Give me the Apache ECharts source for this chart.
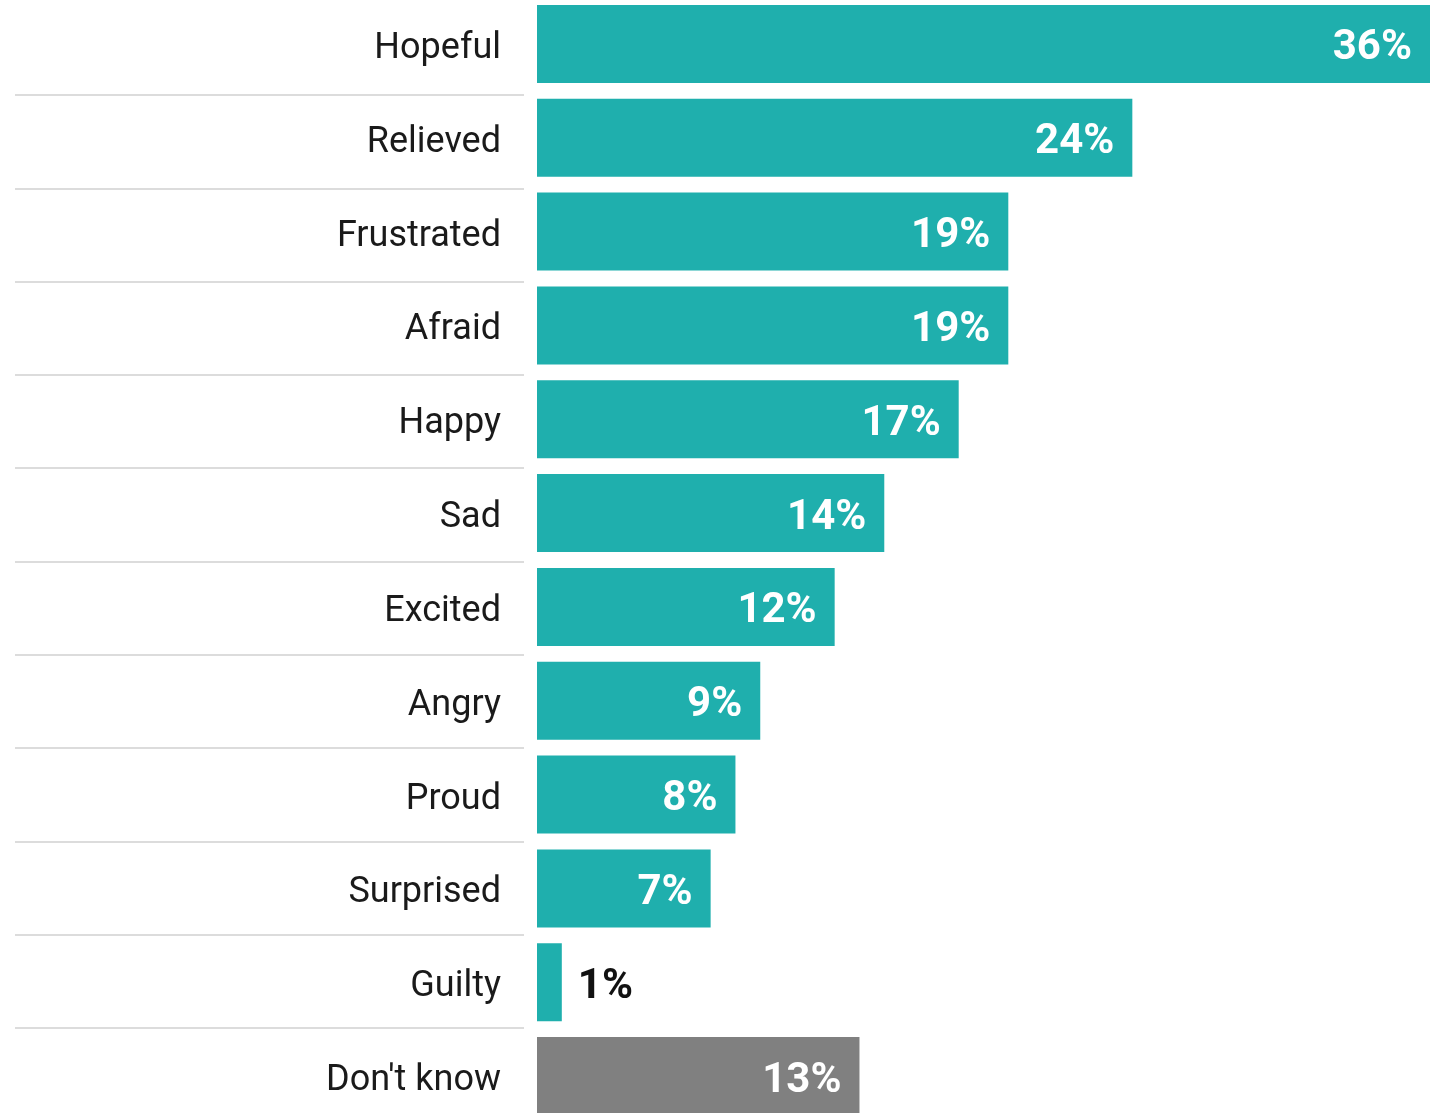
<!DOCTYPE html>
<html><head><meta charset="utf-8">
<script src="https://cdn.jsdelivr.net/npm/echarts@6/dist/echarts.min.js"></script>
<style>html,body{margin:0;padding:0;background:#fff}#c{width:1435px;height:1113px}</style>
</head><body><div id="c"></div>
<script>
const categories = ["Hopeful","Relieved","Frustrated","Afraid","Happy","Sad","Excited","Angry","Proud","Surprised","Guilty","Don't know"];
const values = [36,24,19,19,17,14,12,9,8,7,1,13];
const barColors = ["#1FAFAD","#1FAFAD","#1FAFAD","#1FAFAD","#1FAFAD","#1FAFAD","#1FAFAD","#1FAFAD","#1FAFAD","#1FAFAD","#1FAFAD","#808080"];
const insideThreshold = 3;

const chart = echarts.init(document.getElementById('c'));
chart.setOption({
  animation: false,
  grid: [
    {left: 537, right: 5, top: -3, height: 1126, containLabel: false, outerBoundsMode: 'none'},
    {left: 15, width: 509, top: 1.7, height: 1119.6, containLabel: false, outerBoundsMode: 'none'}
  ],
  xAxis: [
    {gridIndex: 0, type: 'value', min: 0, max: 36, show: false},
    {gridIndex: 1, type: 'value', min: 0, max: 1, show: false}
  ],
  yAxis: [
    {gridIndex: 0, type: 'category', data: categories, inverse: true,
     axisLine: {show: false}, axisTick: {show: false}, splitLine: {show: false},
     axisLabel: {margin: 36, formatter: '{a|{value}}',
       rich: {a: {fontSize: 36, color: '#1a1a1a', fontFamily: 'Roboto', fontWeight: 400, padding: [10, 0, 0, 0]}}}},
    {gridIndex: 1, type: 'category', data: categories, inverse: true,
     axisLine: {show: false}, axisTick: {show: false}, axisLabel: {show: false},
     splitLine: {show: true, interval: function(i){ return i > 0; }, lineStyle: {color: '#dcdcdc', width: 2}}}
  ],
  series: [{
    type: 'bar', xAxisIndex: 0, yAxisIndex: 0, barWidth: 78,
    data: values.map((v, i) => ({
      value: v,
      itemStyle: {color: barColors[i]},
      label: v > insideThreshold
        ? {show: true, position: 'insideRight', distance: 18, color: '#fff'}
        : {show: true, position: 'right', distance: 16, color: '#111'}
    })),
    label: {show: true, formatter: '{c}%', fontSize: 42, fontWeight: 'bold', fontFamily: 'Roboto', offset: [0, 5]}
  }]
});
</script></body></html>
